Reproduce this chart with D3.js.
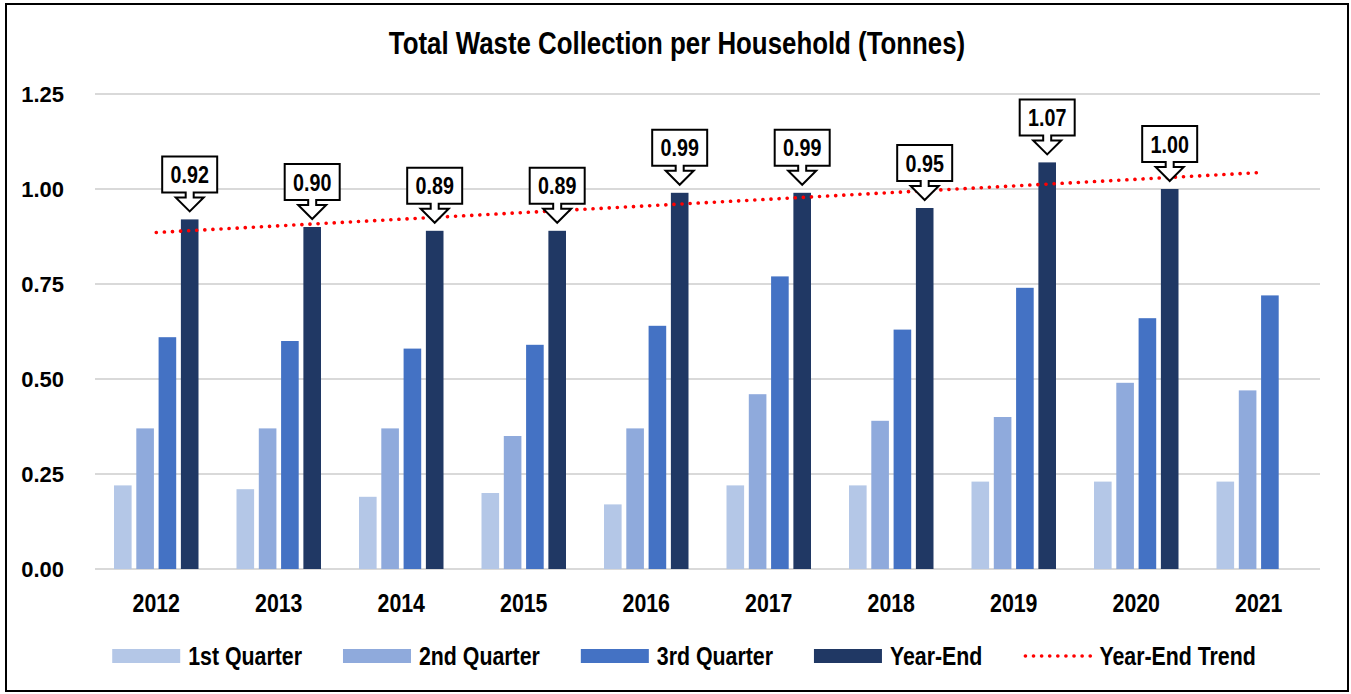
<!DOCTYPE html>
<html>
<head>
<meta charset="utf-8">
<script src="https://cdn.jsdelivr.net/npm/d3@7"></script>
<style>
  html, body { margin: 0; padding: 0; background: #fff; }
  svg { display: block; }
</style>
</head>
<body>
<svg id="chart" width="1351" height="694"></svg>
<script>
// ---------- DATA ----------
const years = ["2012", "2013", "2014", "2015", "2016", "2017", "2018", "2019", "2020", "2021"];
const seriesNames = ["1st Quarter", "2nd Quarter", "3rd Quarter", "Year-End"];
const q1 = [0.22, 0.21, 0.19, 0.20, 0.17, 0.22, 0.22, 0.23, 0.23, 0.23];
const q2 = [0.37, 0.37, 0.37, 0.35, 0.37, 0.46, 0.39, 0.40, 0.49, 0.47];
const q3 = [0.61, 0.60, 0.58, 0.59, 0.64, 0.77, 0.63, 0.74, 0.66, 0.72];
const yearEnd = [0.92, 0.90, 0.89, 0.89, 0.99, 0.99, 0.95, 1.07, 1.00, null];
const yTicks = [0, 0.25, 0.5, 0.75, 1.0, 1.25];
const titleText = "Total Waste Collection per Household (Tonnes)";
const trendName = "Year-End Trend";

const colors = ["#B4C7E7", "#8FAADC", "#4472C4", "#203864"];
const SANS = "'Liberation Sans', Arial, sans-serif";
const NARROW_FACTOR = 0.82;

const seriesValues = [q1, q2, q3, yearEnd];

// condense a text node horizontally (Arial Narrow look); returns condensed width
function narrow(sel) {
  let last = 0;
  sel.each(function () {
    const w = this.getComputedTextLength();
    last = w * NARROW_FACTOR;
    d3.select(this).attr("textLength", last).attr("lengthAdjust", "spacingAndGlyphs");
  });
  return last;
}

// ---------- SETUP ----------
const svg = d3.select("#chart");
svg.append("rect").attr("width", 1351).attr("height", 694).attr("fill", "#fff");
svg.append("rect").attr("x", 6).attr("y", 4).attr("width", 1342).attr("height", 687)
  .attr("fill", "none").attr("stroke", "#000").attr("stroke-width", 2);

const x0 = d3.scaleBand().domain(years).range([95, 1320]).paddingInner(0.272).paddingOuter(0.136);
const x1 = d3.scaleBand().domain(seriesNames).range([0, x0.bandwidth()]).paddingInner(0.21).paddingOuter(0.105);
const y = d3.scaleLinear().domain([0, 1.25]).range([569, 94]);

// gridlines
svg.append("g").selectAll("line").data(yTicks).join("line")
  .attr("x1", 95).attr("x2", 1320)
  .attr("y1", d => y(d)).attr("y2", d => y(d))
  .attr("stroke", "#D9D9D9").attr("stroke-width", 2);

// y axis labels
const yAxis = d3.axisLeft(y).tickValues(yTicks).tickFormat(d3.format(".2f")).tickSize(0).tickPadding(0);
const gy = svg.append("g").attr("transform", "translate(64,0)").call(yAxis);
gy.select(".domain").remove();
gy.selectAll("text").attr("font-family", SANS).attr("font-weight", "bold")
  .attr("font-size", 22).attr("fill", "#000").attr("dy", "0.36em");

// x axis labels
const xAxis = d3.axisBottom(x0).tickSize(0).tickPadding(0);
const gx = svg.append("g").attr("transform", "translate(0,593)").call(xAxis);
gx.select(".domain").remove();
gx.selectAll("text").attr("font-family", SANS).attr("font-weight", "bold")
  .attr("font-size", 26).attr("fill", "#000").attr("dy", "0.72em");
narrow(gx.selectAll("text"));

// bars
const barData = [];
years.forEach((yr, i) => {
  seriesNames.forEach((s, j) => {
    const v = seriesValues[j][i];
    if (v != null) barData.push({ year: yr, series: s, value: v, color: colors[j] });
  });
});
svg.append("g").selectAll("rect").data(barData).join("rect")
  .attr("x", d => x0(d.year) + x1(d.series))
  .attr("y", d => y(d.value))
  .attr("width", x1.bandwidth())
  .attr("height", d => y(0) - y(d.value))
  .attr("fill", d => d.color);

// trend line (least-squares fit of Year-End values)
const pts = yearEnd.map((v, i) => ({ i: i + 1, v })).filter(d => d.v != null);
const mx = d3.mean(pts, d => d.i), my = d3.mean(pts, d => d.v);
const slope = d3.sum(pts, d => (d.i - mx) * (d.v - my)) / d3.sum(pts, d => (d.i - mx) ** 2);
const icpt = my - slope * mx;
const cx = yr => x0(yr) + x0.bandwidth() / 2;
const trendPts = [years[0], years[years.length - 1]].map(yr => {
  const idx = years.indexOf(yr) + 1;
  return [cx(yr), y(icpt + slope * idx)];
});
svg.append("path").attr("d", d3.line()(trendPts))
  .attr("fill", "none").attr("stroke", "#FF0000").attr("stroke-width", 3.6)
  .attr("stroke-linecap", "round").attr("stroke-dasharray", "0.1 8");

// callouts
const fmt = d3.format(".2f");
const calloutG = svg.append("g");
years.forEach((yr, i) => {
  const v = yearEnd[i];
  if (v == null) return;
  const bx = x0(yr) + x1("Year-End") + x1.bandwidth() / 2;
  const tip = y(v) - 8;
  const hw = 27.5, bh = 36;
  const p = `M${bx},${tip} L${bx - 14},${tip - 14} L${bx - 4},${tip - 14} L${bx - 4},${tip - 19}
    L${bx - hw},${tip - 19} L${bx - hw},${tip - 19 - bh} L${bx + hw},${tip - 19 - bh} L${bx + hw},${tip - 19}
    L${bx + 4},${tip - 19} L${bx + 4},${tip - 14} L${bx + 14},${tip - 14} Z`;
  calloutG.append("path").attr("d", p).attr("fill", "#fff").attr("stroke", "#000").attr("stroke-width", 2)
    .attr("stroke-linejoin", "miter");
  const t = calloutG.append("text").attr("x", bx).attr("y", tip - 19 - bh / 2)
    .attr("dy", "0.36em").attr("text-anchor", "middle")
    .attr("font-family", SANS).attr("font-weight", "bold").attr("font-size", 24)
    .attr("fill", "#000").text(fmt(v));
  narrow(t);
});

// title
const title = svg.append("text").attr("x", 677).attr("y", 54).attr("text-anchor", "middle")
  .attr("font-family", SANS).attr("font-weight", "bold").attr("font-size", 31.5)
  .attr("fill", "#000").text(titleText);
narrow(title);

// legend
const legendItems = seriesNames.map((s, j) => ({ name: s, color: colors[j], type: "rect" }))
  .concat([{ name: trendName, color: "#FF0000", type: "line" }]);
const lg = svg.append("g");
const GAP = 41;
let xpos = 0;
legendItems.forEach(d => {
  const g = lg.append("g");
  if (d.type === "rect") {
    g.append("rect").attr("x", 0).attr("y", -7).attr("width", 68).attr("height", 14).attr("fill", d.color);
  } else {
    g.append("line").attr("x1", 2).attr("x2", 67).attr("y1", 0).attr("y2", 0)
      .attr("stroke", d.color).attr("stroke-width", 3.6).attr("stroke-linecap", "round")
      .attr("stroke-dasharray", "0.1 8");
  }
  const t = g.append("text").attr("x", 76).attr("y", 0).attr("dy", "0.36em")
    .attr("font-family", SANS).attr("font-weight", "bold").attr("font-size", 26)
    .attr("fill", "#000").text(d.name);
  const tw = narrow(t);
  g.attr("transform", `translate(${xpos},0)`);
  xpos += 76 + tw + GAP;
});
const totalW = xpos - GAP;
lg.attr("transform", `translate(${684 - totalW / 2},656)`);
</script>
</body>
</html>
